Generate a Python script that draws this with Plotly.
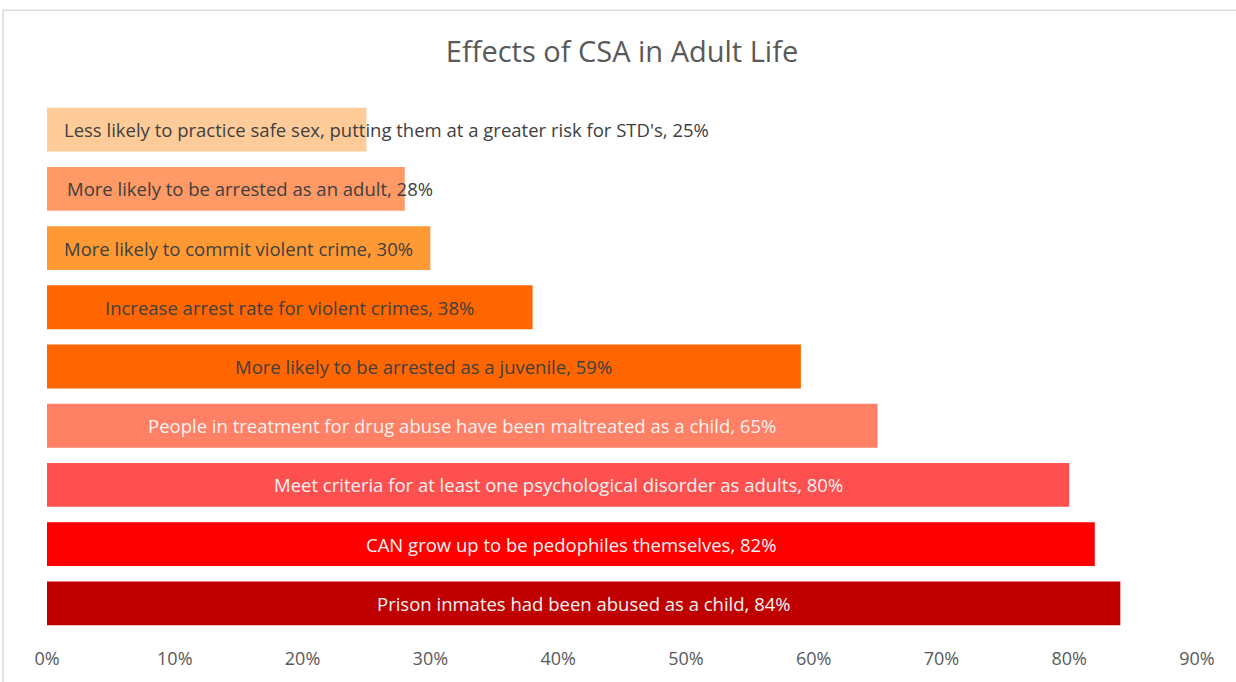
import plotly.graph_objects as go

categories = [
    "Less likely to practice safe sex, putting them at a greater risk for STD's",
    "More likely to be arrested as an adult",
    "More likely to commit violent crime",
    "Increase arrest rate for violent crimes",
    "More likely to be arrested as a juvenile",
    "People in treatment for drug abuse have been maltreated as a child",
    "Meet criteria for at least one psychological disorder as adults",
    "CAN grow up to be pedophiles themselves",
    "Prison inmates had been abused as a child",
]
values = [0.25, 0.28, 0.30, 0.38, 0.59, 0.65, 0.80, 0.82, 0.84]
bar_colors = ["#FFCC99", "#FF9966", "#FF9933", "#FF6600", "#FF6600",
              "#FF8064", "#FF5050", "#FF0000", "#C00000"]
text_colors = ["#404040", "#404040", "#404040", "#404040", "#404040",
               "#F2F2F2", "#F2F2F2", "#F2F2F2", "#F2F2F2"]
tick_vals = [0, 0.1, 0.2, 0.3, 0.4, 0.5, 0.6, 0.7, 0.8, 0.9]
tick_text = ["0%", "10%", "20%", "30%", "40%", "50%", "60%", "70%", "80%", "90%"]

FONT = "Open Sans"
W, H = 1236, 682
ML, MR, MT, MB = 47, 39, 100, 47
plot_w = W - ML - MR
plot_h = H - MT - MB
x_max = 0.9
px_per_unit = plot_w / x_max
char_w = 8.6

fig = go.Figure()
fig.add_trace(go.Bar(
    y=categories, x=values, orientation="h",
    marker=dict(color=bar_colors, line=dict(width=0)),
    hoverinfo="skip",
))

annotations = []
for i, (cat, v, tc) in enumerate(zip(categories, values, text_colors)):
    label = f"{cat}, {v:.0%}"
    est_w = len(label) * char_w
    bar_w = v * px_per_unit
    if est_w <= bar_w:
        ax, anchor = v / 2, "center"
    else:
        ax, anchor = (15 + 3 * i) / px_per_unit, "left"
    annotations.append(dict(
        x=ax, y=cat, xref="x", yref="y", text=label, showarrow=False,
        xanchor=anchor, yanchor="middle",
        font=dict(family=FONT, size=18.5, color=tc),
    ))

fig.update_layout(
    width=W, height=H,
    margin=dict(l=ML, r=MR, t=MT, b=MB),
    paper_bgcolor="white", plot_bgcolor="white",
    title=dict(text="Effects of CSA in Adult Life", x=0.5, xref="paper",
               y=1 - 52 / H, yanchor="middle",
               font=dict(family=FONT, size=29, color="#595959")),
    bargap=0.26,
    showlegend=False,
    annotations=annotations,
    xaxis=dict(range=[0, x_max], tickvals=tick_vals, ticktext=tick_text,
               showgrid=False, zeroline=False, showline=False, ticks="",
               ticklabelstandoff=13,
               tickfont=dict(family=FONT, size=18, color="#595959"),
               fixedrange=True),
    yaxis=dict(range=[8.5, -0.5], showticklabels=False, showgrid=False,
               zeroline=False, showline=False, ticks="", fixedrange=True),
    shapes=[dict(type="rect", xref="paper", yref="paper",
                 x0=(3 - ML) / plot_w, x1=1.2,
                 y0=-0.3, y1=(H - MB - 10) / plot_h,
                 line=dict(color="#D9D9D9", width=1.5), layer="below")],
)

fig.write_html("out.html", config={"displayModeBar": False},
               post_script="document.body.style.margin='0';")
